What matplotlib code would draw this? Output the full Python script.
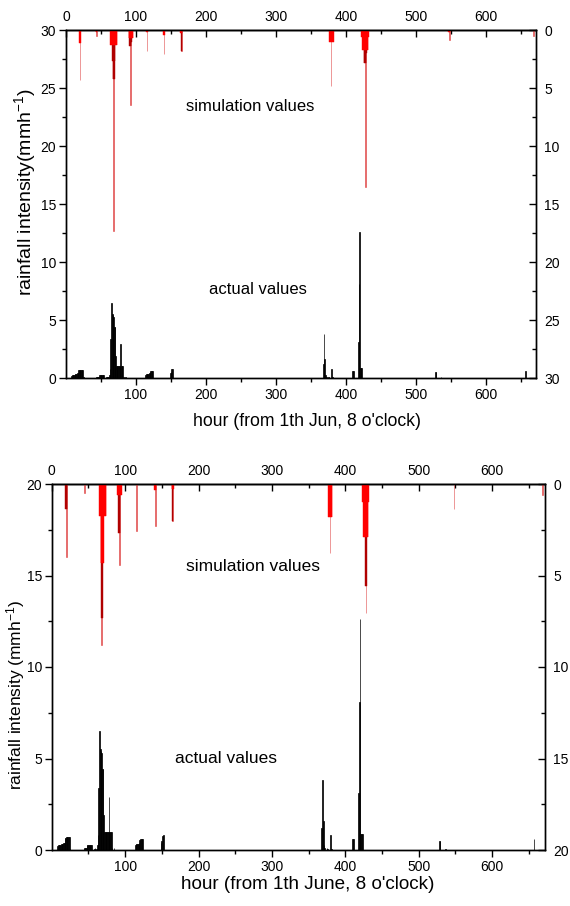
import matplotlib
matplotlib.use('Agg')
import matplotlib.pyplot as plt
from matplotlib.ticker import MultipleLocator, FixedLocator

plt.rcParams['font.family'] = ['Liberation Sans', 'DejaVu Sans']
plt.rcParams['mathtext.default'] = 'regular'

# ---------------- data ----------------
# observed hourly rainfall (mm/h), same in both panels
actual_hours = [8, 9, 10, 11, 12, 13, 14, 15, 16, 17, 18, 19, 20, 21, 22, 23, 24, 25,
                44, 45, 46, 47, 48, 49, 50, 51, 52, 53, 54,
                58, 59, 61, 62, 63, 64, 65, 66, 67, 68, 69, 70, 71, 72, 73, 74, 75, 76,
                77, 78, 79, 80, 81, 82, 85,
                114, 115, 116, 117, 118, 119, 120, 121, 122, 123, 124,
                149, 150, 151, 152,
                368, 369, 370, 371, 372, 375, 376, 380, 381,
                410, 411, 418, 419, 420, 421, 422, 423,
                528, 529, 536, 657]
actual_values = [0.2, 0.25, 0.3, 0.3, 0.3, 0.35, 0.35, 0.35, 0.4, 0.4, 0.65, 0.65, 0.7, 0.7, 0.7, 0.7, 0.7, 0.05,
                 0.05, 0.1, 0.1, 0.1, 0.25, 0.3, 0.3, 0.3, 0.3, 0.3, 0.25,
                 0.05, 0.1, 0.05, 0.3, 0.8, 3.4, 6.5, 5.5, 5.4, 5.3, 4.4, 4.4, 1.9, 1.0, 1.0, 1.0, 1.0, 1.0,
                 1.0, 2.9, 1.0, 1.0, 1.0, 0.1, 0.1,
                 0.3, 0.35, 0.35, 0.35, 0.35, 0.4, 0.55, 0.6, 0.6, 0.6, 0.6,
                 0.4, 0.5, 0.75, 0.8,
                 1.2, 3.8, 1.6, 0.3, 0.1, 0.1, 0.05, 0.8, 0.05,
                 0.6, 0.6, 3.1, 8.1, 12.6, 0.9, 0.9, 0.9,
                 0.5, 0.5, 0.05, 0.6]

# simulation, panel 1 (three overlapping layers)
sim1_peak_hours = [20, 44, 68, 92, 116, 140, 165, 379, 428, 548, 668]
sim1_peak_values = [4.3, 0.5, 17.3, 6.5, 1.8, 2.1, 1.85, 4.8, 13.5, 0.9, 0.55]
sim1_mid_hours = [66, 67, 68, 69, 70, 91, 92, 93, 94, 165, 426, 427, 428, 429, 430]
sim1_mid_values = [2.7, 4.2, 4.2, 4.2, 2.7, 1.4, 1.4, 1.4, 1.0, 1.85, 2.85, 2.85, 2.85, 2.85, 2.0]
sim1_low_hours = [19, 20, 21, 43, 44,
                  64, 65, 66, 67, 68, 69, 70, 71, 72, 73,
                  90, 91, 92, 93, 94, 95, 96,
                  115, 116, 117, 139, 140, 141, 164, 165, 166,
                  377, 378, 379, 380, 381, 382,
                  423, 424, 425, 426, 427, 428, 429, 430, 431, 432, 433,
                  547, 548, 549]
sim1_low_values = [1.08, 1.08, 1.08, 0.15, 0.15,
                   1.33, 1.33, 1.33, 1.33, 1.33, 1.33, 1.33, 1.33, 1.33, 1.33,
                   0.65, 0.65, 0.65, 0.65, 0.65, 0.65, 0.65,
                   0.2, 0.2, 0.2, 0.4, 0.4, 0.4, 0.3, 0.3, 0.3,
                   1.05, 1.05, 1.05, 1.05, 1.05, 1.05,
                   0.6, 1.7, 1.7, 1.7, 1.7, 1.7, 1.7, 1.7, 1.7, 1.7, 0.6,
                   0.15, 0.15, 0.15]

# simulation, panel 2
sim2_peak_hours = [20, 45, 68, 92, 116, 141, 165, 379, 428, 548, 669]
sim2_peak_values = [4.0, 0.5, 8.8, 4.45, 2.55, 2.3, 2.0, 3.75, 7.05, 1.35, 0.6]
sim2_mid_hours = [19, 20, 21, 68, 69, 91, 92, 93, 165, 427, 428, 429]
sim2_mid_values = [1.34, 1.34, 1.34, 7.3, 7.3, 2.7, 2.7, 2.7, 2.0, 5.6, 5.6, 5.6]
sim2_low_hours = [65, 66, 67, 68, 69, 70, 71, 72, 73, 74,
                  90, 91, 92, 93, 94, 95,
                  140, 141, 142, 164, 165, 166,
                  377, 378, 379, 380, 381, 382,
                  423, 424, 425, 426, 427, 428, 429, 430, 431, 432]
sim2_low_values = [1.75, 1.75, 4.3, 4.3, 4.3, 4.3, 4.3, 1.75, 1.75, 1.75,
                   0.6, 0.6, 0.6, 0.6, 0.6, 0.6,
                   0.33, 0.33, 0.33, 0.3, 0.3, 0.3,
                   1.83, 1.83, 1.83, 1.83, 1.83, 1.83,
                   1.0, 1.0, 2.9, 2.9, 2.9, 2.9, 2.9, 2.9, 2.9, 1.0]

x_major_top = [0, 100, 200, 300, 400, 500, 600]
x_major_bottom = [100, 200, 300, 400, 500, 600]
x_minor = [50, 150, 250, 350, 450, 550, 650]

# ---------------- drawing ----------------
fig = plt.figure(figsize=(5.70, 9.06), dpi=100)

C_PEAK = '#e04848'
C_MID = '#b00000'
C_LOW = '#ff0000'


def panel(rect, ymax, sims, ylabel, xlabel, txt_sim, txt_act, fs_ylab, fs_xlab, fs_txt,
          ylab_pos, xlab_pos):
    ax = fig.add_axes(rect)
    ax.bar(actual_hours, actual_values, width=1.0, color='black',
           edgecolor='black', linewidth=0.5, zorder=2)
    ax.set_xlim(0, 672)
    ax.set_ylim(0, ymax)
    ax.xaxis.set_major_locator(FixedLocator(x_major_bottom))
    ax.xaxis.set_minor_locator(FixedLocator(x_minor))
    ax.yaxis.set_major_locator(MultipleLocator(5))
    ax.yaxis.set_minor_locator(MultipleLocator(2.5))
    ax.tick_params(axis='both', which='major', direction='out', length=5,
                   width=1.0, labelsize=10, pad=2)
    ax.tick_params(axis='both', which='minor', direction='out', length=3, width=1.0)
    ax.set_ylabel(ylabel, fontsize=fs_ylab)
    ax.set_xlabel(xlabel, fontsize=fs_xlab)
    ax.yaxis.set_label_coords(*ylab_pos)
    ax.xaxis.set_label_coords(*xlab_pos)
    for s in ax.spines.values():
        s.set_linewidth(1.0)

    ax2 = ax.twinx()
    ax2.set_ylim(ymax, 0)
    (ph, pv), (mh, mv), (lh, lv) = sims
    ax2.bar(ph, pv, width=1.0, color=C_PEAK, edgecolor=C_PEAK, linewidth=0.4)
    ax2.bar(mh, mv, width=1.0, color=C_MID, edgecolor=C_MID, linewidth=0.3)
    ax2.bar(lh, lv, width=1.0, color=C_LOW, edgecolor=C_LOW, linewidth=0.3)
    ax2.yaxis.set_major_locator(MultipleLocator(5))
    ax2.yaxis.set_minor_locator(MultipleLocator(2.5))
    ax2.tick_params(axis='y', which='major', direction='in', length=5,
                    width=1.0, labelsize=10, pad=6)
    ax2.tick_params(axis='y', which='minor', direction='in', length=3, width=1.0)
    for s in ax2.spines.values():
        s.set_linewidth(1.0)

    sec = ax.secondary_xaxis('top')
    sec.xaxis.set_major_locator(FixedLocator(x_major_top))
    sec.xaxis.set_minor_locator(FixedLocator(x_minor))
    sec.tick_params(axis='x', which='major', direction='in', length=5,
                    width=1.0, labelsize=10, pad=4)
    sec.tick_params(axis='x', which='minor', direction='in', length=3, width=1.0)
    sec.spines['top'].set_linewidth(1.0)

    ax.text(txt_sim[0], txt_sim[1], 'simulation values', fontsize=fs_txt,
            ha='center', va='center')
    ax.text(txt_act[0], txt_act[1], 'actual values', fontsize=fs_txt,
            ha='center', va='center')
    return ax


panel([66 / 570, 1 - 378 / 906, 470 / 570, 348 / 906], 30,
      [(sim1_peak_hours, sim1_peak_values), (sim1_mid_hours, sim1_mid_values),
       (sim1_low_hours, sim1_low_values)],
      'rainfall intensity(mmh$^{-1}$)', "hour (from 1th Jun, 8 o'clock)",
      (263, 23.4), (274, 7.6), 14, 12.7, 12,
      (-0.060, 0.535), (0.513, -0.10))

panel([51.7 / 570, 1 - 850 / 906, 493.3 / 570, 366 / 906], 20,
      [(sim2_peak_hours, sim2_peak_values), (sim2_mid_hours, sim2_mid_values),
       (sim2_low_hours, sim2_low_values)],
      'rainfall intensity (mmh$^{-1}$)', "hour (from 1th June, 8 o'clock)",
      (274.5, 15.5), (238, 5.0), 12.5, 13.6, 12.5,
      (-0.050, 0.425), (0.518, -0.072))

fig.savefig('out.png', dpi=100)
